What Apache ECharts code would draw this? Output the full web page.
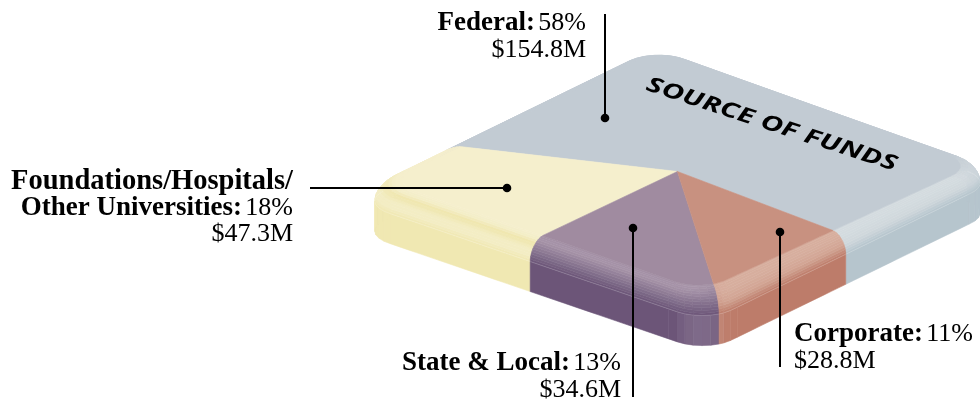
<!DOCTYPE html>
<html>
<head>
<meta charset="utf-8">
<style>
  html, body { margin: 0; padding: 0; background: #fff; }
  #chart { width: 980px; height: 400px; }
</style>
<script src="https://cdn.jsdelivr.net/npm/echarts@6/dist/echarts.min.js"></script>
</head>
<body>
<div id="chart"></div>
<script>
// printed labels
const sourceNames = ['Federal', 'Foundations/Hospitals/\nOther Universities', 'State & Local', 'Corporate'];
const sharePercent = [58, 18, 13, 11];
const amounts = ['$154.8M', '$47.3M', '$34.6M', '$28.8M'];
// share of the square's rim each wedge takes in the picture (slightly off the printed percents)
const drawnShare = [56.3, 19, 13.7, 11];

// colours per wedge
const topColors = ['#c2cbd3', '#f5efcd', '#a08ba0', '#c89180'];
const wallColors = ['#b6c5cd', '#f0e8b2', '#6c5578', '#bd7c6a'];
const leftBand = [
  ['#b6c5cd', '#c2cbd3', '#c2cbd3'],
  ['#f0e8b2', '#f3edc4', '#f3edc4', '#efe6ad', '#f4eec8', '#f5efcd'],
  ['#6c5578', '#7d6a88', '#927f98', '#a693a8', '#a491a6'],
  ['#bd7c6a', '#c89180', '#c89180']
];
const rightBand = [
  ['#b6c5cd', '#cfd7dc', '#d4dbdf', '#d4dbdf'],
  ['#f0e8b2', '#f5efcd', '#f5efcd'],
  ['#6c5578', '#8a7692', '#a08ba0'],
  ['#bd7c6a', '#d2a594', '#d7ae9e', '#d7ae9e']
];

// projected corners of the box: T, R, B, L
const topFace = [[658, 50], [975, 165], [702, 291], [388, 182]];
const wallFace = [[648, 62], [996, 181], [707, 322], [359, 203]];
const wallHeight = 30;
const bevelRise = 18;
const cornerRadius = 0.085;
const hub = [0.492, 0.503];
const startRim = 1.52; // rim position where the first wedge ends
const rimStep = 0.025;
const bevelSteps = 12;

// leader lines: [x1, y1, x2, y2], dot sits at x2,y2
const leaders = [
  [605, 14, 605, 118],
  [310, 188, 507, 188],
  [633, 397, 633, 228],
  [780, 367, 780, 232]
];

function hexRgb(c) {
  return [1, 3, 5].map(i => parseInt(c.substr(i, 2), 16));
}
function mixRgb(a, b, t) {
  return a.map((v, i) => v + (b[i] - v) * t);
}
function rgbStr(c) {
  return 'rgb(' + c.map(Math.round).join(',') + ')';
}
function rampColor(stops, t) {
  const p = Math.min(t, 0.9999) * (stops.length - 1);
  const i = Math.floor(p);
  return mixRgb(hexRgb(stops[i]), hexRgb(stops[i + 1]), p - i);
}

const sides = [
  { c: [0, 0], d: [1, 0], n: [0, -1] },
  { c: [1, 0], d: [0, 1], n: [1, 0] },
  { c: [1, 1], d: [-1, 0], n: [0, 1] },
  { c: [0, 1], d: [0, -1], n: [-1, 0] }
];

// rim position s (0..4, clockwise from T) -> uv on the rounded square plus outward normal
function rimPoint(s) {
  s = ((s % 4) + 4) % 4;
  const side = sides[Math.floor(s)];
  const t = s - Math.floor(s);
  const r = cornerRadius;
  const { c, d, n } = side;
  let cx, cy, phi, dirSign;
  if (t < r) {
    phi = (45 + 45 * t / r) * Math.PI / 180;
    cx = c[0] + d[0] * r - n[0] * r;
    cy = c[1] + d[1] * r - n[1] * r;
    dirSign = -1;
  } else if (t > 1 - r) {
    phi = (45 + 45 * (1 - t) / r) * Math.PI / 180;
    cx = c[0] + d[0] * (1 - r) - n[0] * r;
    cy = c[1] + d[1] * (1 - r) - n[1] * r;
    dirSign = 1;
  } else {
    return { u: c[0] + d[0] * t, v: c[1] + d[1] * t, nu: n[0], nv: n[1] };
  }
  const nu = n[0] * Math.sin(phi) + dirSign * d[0] * Math.cos(phi);
  const nv = n[1] * Math.sin(phi) + dirSign * d[1] * Math.cos(phi);
  return { u: cx + nu * r, v: cy + nv * r, nu, nv };
}

function onFace(face, u, v) {
  const [T, R, B, L] = face;
  return [0, 1].map(i =>
    (1 - u) * (1 - v) * T[i] + u * (1 - v) * R[i] + u * v * B[i] + (1 - u) * v * L[i]);
}

// level f: 0 = top of wall, 1 = top face, quarter round between them
function bevelPoint(rim, f) {
  const w = onFace(wallFace, rim.u, rim.v);
  const p = onFace(topFace, rim.u, rim.v);
  const a = f * Math.PI / 2;
  const inset = 1 - Math.cos(a);
  return [
    w[0] + (p[0] - w[0]) * inset,
    w[1] - bevelRise * Math.sin(a) + (p[1] - w[1] + bevelRise) * inset
  ];
}

function rimRange(idx) {
  let end = startRim + 4;
  for (let i = 0; i < idx; i++) end -= drawnShare[i] * 4 / 100;
  return [end - drawnShare[idx] * 4 / 100, end];
}

function rimSamples(idx) {
  const [a, b] = rimRange(idx);
  const out = [];
  for (let s = a; s < b; s += rimStep) out.push(rimPoint(s));
  out.push(rimPoint(b));
  return out;
}

function poly(api, pts, fill) {
  const px = pts.map(p => api.coord(p));
  return {
    type: 'polygon',
    shape: { points: px },
    style: { fill: fill, stroke: fill, lineWidth: 0.6 },
    silent: true
  };
}

function bandColor(idx, rim, f) {
  const top = hexRgb(topColors[idx]);
  const a = Math.max(rim.nv, 0), b = Math.max(rim.nu, 0);
  const sum = a + b;
  if (sum <= 0) return top;
  const back = Math.max(-rim.nu, 0) + Math.max(-rim.nv, 0);
  let col = mixRgb(rampColor(leftBand[idx], f), rampColor(rightBand[idx], f), b / sum);
  if (back > 0) col = mixRgb(col, top, back / (back + sum) * f);
  if (a > 0 && b > 0 && f > 0.4) col = mixRgb(col, [255, 255, 255], a * b * 0.3 * (f - 0.4));
  return col;
}

function renderSides(params, api) {
  const idx = params.dataIndex;
  const rims = rimSamples(idx);
  const children = [];
  const wall = hexRgb(wallColors[idx]);
  // flat stretch of wall as one shape
  const flat = rims.filter(r => (r.nu > 0 || r.nv > 0) && r.nu * r.nv === 0);
  if (flat.length > 1) {
    const upper = flat.map(r => onFace(wallFace, r.u, r.v));
    const lower = upper.map(p => [p[0], p[1] + wallHeight]).reverse();
    children.push(poly(api, upper.concat(lower), rgbStr(wall)));
  }
  // rounded corners as facets
  for (let i = 0; i < rims.length - 1; i++) {
    const r0 = rims[i], r1 = rims[i + 1];
    if (r0.nu * r0.nv === 0 && r1.nu * r1.nv === 0) continue;
    if (r0.nu <= 0 && r0.nv <= 0) continue;
    const a = onFace(wallFace, r0.u, r0.v), b = onFace(wallFace, r1.u, r1.v);
    const lit = Math.max(r0.nu, 0) * Math.max(r0.nv, 0);
    const col = mixRgb(wall, [255, 255, 255], lit * 0.25);
    children.push(poly(api, [a, b, [b[0], b[1] + wallHeight], [a[0], a[1] + wallHeight]], rgbStr(col)));
  }
  // bevel, one flat colour per step like the blend in the original; same-colour runs share a strip
  for (let k = 0; k < bevelSteps; k++) {
    const f0 = k / bevelSteps, f1 = (k + 1) / bevelSteps, fm = (f0 + f1) / 2;
    let i = 0;
    while (i < rims.length - 1) {
      const col = rgbStr(bandColor(idx, rims[i], fm));
      let j = i + 1;
      while (j < rims.length - 1 && rgbStr(bandColor(idx, rims[j], fm)) === col) j++;
      const run = rims.slice(i, j + 1);
      const lower = run.map(r => bevelPoint(r, f0));
      const upper = run.map(r => bevelPoint(r, f1)).reverse();
      children.push(poly(api, lower.concat(upper), col));
      i = j;
    }
  }
  return { type: 'group', children: children };
}

function renderTop(params, api) {
  const idx = params.dataIndex;
  const rims = rimSamples(idx);
  const pts = [onFace(topFace, hub[0], hub[1])].concat(rims.map(r => bevelPoint(r, 1)));
  const seam = rims.filter(r => r.nu > 0 || r.nv > 0).map(r => api.coord(bevelPoint(r, 0)));
  return {
    type: 'group',
    children: [
      poly(api, pts, topColors[idx]),
      {
        type: 'polyline',
        shape: { points: seam },
        style: { fill: null, stroke: 'rgba(255,255,255,0.22)', lineWidth: 0.8 },
        silent: true
      }
    ]
  };
}

function renderLeader(params, api) {
  const a = api.coord([api.value(0), api.value(1)]);
  const b = api.coord([api.value(2), api.value(3)]);
  return {
    type: 'group',
    children: [
      { type: 'line', shape: { x1: a[0], y1: a[1], x2: b[0], y2: b[1] }, style: { stroke: '#000', lineWidth: 2 } },
      { type: 'circle', shape: { cx: b[0], cy: b[1], r: 4.3 }, style: { fill: '#000' } }
    ]
  };
}

function labelRich(idx) {
  const lines = sourceNames[idx].split('\n');
  const out = lines.map((l, i) =>
    i === lines.length - 1 ? '{b|' + l + ':} {r|' + sharePercent[idx] + '%}' : '{w|' + l + '}');
  out.push('{r|' + amounts[idx] + '}');
  return out.join('\n');
}

const serif = '"Liberation Serif", serif';
const richStyles = {
  b: { fontFamily: serif, fontWeight: 'bold', fontSize: 27, lineHeight: 26.5, fill: '#000' },
  w: { fontFamily: serif, fontWeight: 'bold', fontSize: 28.5, lineHeight: 26.5, fill: '#000' },
  r: { fontFamily: serif, fontSize: 26, lineHeight: 26.5, fill: '#000' }
};

function labelEl(idx, x, y, align) {
  return {
    type: 'text', x: x, y: y, z: 20, silent: true,
    style: { text: labelRich(idx), rich: richStyles, align: align, verticalAlign: 'top' }
  };
}

const chart = echarts.init(document.getElementById('chart'), null, { renderer: 'canvas' });
chart.setOption({
  animation: false,
  backgroundColor: '#fff',
  tooltip: { show: false },
  grid: { left: 0, right: 0, top: 0, bottom: 0 },
  xAxis: { type: 'value', min: 0, max: 980, show: false },
  yAxis: { type: 'value', min: 0, max: 400, inverse: true, show: false },
  graphic: [
    labelEl(0, 586, 10, 'right'),
    labelEl(1, 293, 168, 'right'),
    labelEl(2, 621, 350, 'right'),
    labelEl(3, 794, 321, 'left'),
    {
      type: 'text', x: 650, y: 74, z: 20, rotation: -0.315, scaleX: 1.44, silent: true,
      style: {
        text: 'SOURCE OF FUNDS',
        fontFamily: '"Open Sans", sans-serif',
        fontStyle: 'italic', fontWeight: 'bold', fontSize: 21,
        fill: '#000', align: 'left', verticalAlign: 'top'
      }
    }
  ],
  series: [
    { type: 'custom', clip: false, silent: true, z: 1, renderItem: renderSides, data: drawnShare },
    { type: 'custom', clip: false, silent: true, z: 2, renderItem: renderTop, data: drawnShare },
    { type: 'custom', clip: false, silent: true, z: 3, renderItem: renderLeader, data: leaders }
  ]
});
</script>
</body>
</html>
